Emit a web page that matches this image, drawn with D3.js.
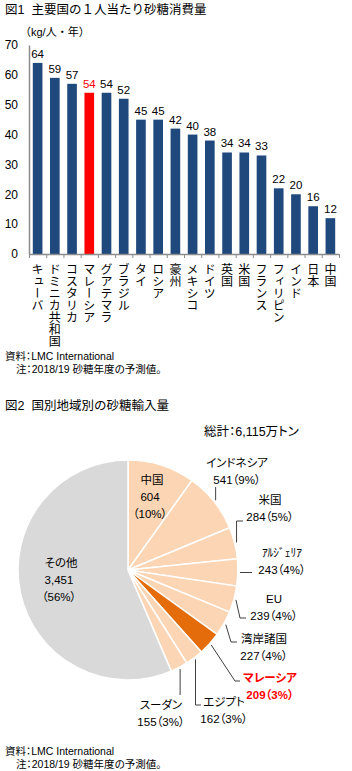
<!DOCTYPE html>
<html>
<head>
<meta charset="utf-8">
<script src="https://cdn.jsdelivr.net/npm/d3@7"></script>
<style>
  body { margin: 0; background: #fff; }
  svg { display: block; font-family: "Liberation Sans", "Noto Sans CJK JP", sans-serif; }
  .palt { font-feature-settings: "palt"; }
</style>
</head>
<body>
<svg id="chart" width="352" height="771"></svg>
<script>
// --- data: fig.1 per-capita sugar consumption (kg/person/year)
const countries = ["キューバ", "ドミニカ共和国", "コスタリカ", "マレーシア", "グアテマラ", "ブラジル",
  "タイ", "ロシア", "豪州", "メキシコ", "ドイツ", "英国", "米国", "フランス", "フィリピン",
  "インド", "日本", "中国"];
const perCapita = [64, 59, 57, 54, 54, 52, 45, 45, 42, 40, 38, 34, 34, 33, 22, 20, 16, 12];
const highlight = "マレーシア";
const yTicks = [0, 10, 20, 30, 40, 50, 60, 70];

// --- data: fig.2 sugar imports by country/region (10k tonnes)
const importNames = ["中国", "インドネシア", "米国", "ｱﾙｼﾞｪﾘｱ", "EU", "湾岸諸国", "マレーシア",
  "エジプト", "スーダン", "その他"];
const importValues = [604, 541, 284, 243, 239, 227, 209, 162, 155, 3451];
const importShares = [10, 9, 5, 4, 4, 4, 3, 3, 3, 56];
const importTotal = 6115;

const svg = d3.select("#chart");
const fmt = d3.format(",");

// ---------------- figure 1 ----------------
svg.append("text").attr("x", 5).attr("y", 14).attr("font-size", 12.5)
  .text("図1\u00a0\u00a0主要国の１人当たり砂糖消費量");
svg.append("text").attr("x", 20).attr("y", 36).attr("font-size", 11)
  .text("（kg/人・年）");

const x = d3.scaleBand().domain(countries).range([29, 339])
  .paddingInner(0.44).paddingOuter(0.22);
const y = d3.scaleLinear().domain([0, 70]).range([254, 45]);
const edges = d3.scaleLinear().domain([0, countries.length]).range([29, 339]);

const yAxis = svg.append("g").attr("transform", "translate(29,0)")
  .call(d3.axisLeft(y).tickValues(yTicks).tickSize(0).tickSizeOuter(0).tickPadding(11));
yAxis.selectAll("text").attr("font-size", 12).attr("fill", "#000")
  .attr("font-family", "Liberation Sans, sans-serif");
yAxis.select(".domain").attr("stroke", "#8c8c8c").attr("stroke-width", 1.5);

svg.selectAll("rect.bar").data(countries).join("rect")
  .attr("class", "bar")
  .attr("x", d => x(d))
  .attr("width", x.bandwidth())
  .attr("y", (d, i) => y(perCapita[i]))
  .attr("height", (d, i) => y(0) - y(perCapita[i]))
  .attr("fill", d => d === highlight ? "#ff0000" : "#1f497d");

svg.selectAll("text.val").data(countries).join("text")
  .attr("class", "val")
  .attr("x", d => x(d) + x.bandwidth() / 2)
  .attr("y", (d, i) => y(perCapita[i]) - 5)
  .attr("text-anchor", "middle")
  .attr("font-size", 11.5)
  .attr("fill", d => d === highlight ? "#ff0000" : "#000")
  .text((d, i) => perCapita[i]);

const xAxis = svg.append("g").attr("transform", "translate(0,254)")
  .call(d3.axisBottom(edges).tickValues(d3.range(countries.length + 1))
    .tickSize(4).tickSizeOuter(0).tickFormat(""));
xAxis.selectAll("line").attr("stroke", "#8c8c8c");
xAxis.select(".domain").attr("stroke", "#8c8c8c").attr("stroke-width", 1.5);

svg.selectAll("text.cat").data(countries).join("text")
  .attr("class", "cat")
  .attr("x", d => x(d) + x.bandwidth() / 2)
  .attr("y", 263)
  .attr("font-size", 12)
  .attr("font-family", "Noto Sans CJK JP, sans-serif")
  .style("writing-mode", "vertical-rl")
  .text(d => d);

svg.append("text").attr("x", 5).attr("y", 360).attr("font-size", 10.5)
  .attr("class", "palt").text("資料：LMC International");
svg.append("text").attr("x", 16).attr("y", 373).attr("font-size", 10.5)
  .attr("class", "palt").text("注：2018/19 砂糖年度の予測値。");

// ---------------- figure 2 ----------------
svg.append("text").attr("x", 5).attr("y", 410).attr("font-size", 12.5)
  .text("図2\u00a0\u00a0国別地域別の砂糖輸入量");
svg.append("text").attr("x", 204).attr("y", 436).attr("font-size", 12.5)
  .attr("class", "palt").text("総計：" + fmt(importTotal) + "万トン");

const cx = 128, cy = 570, r = 110;
const pieData = d3.pie().sort(null).value(d => d.v)(
  importNames.map((n, i) => ({ name: n, v: importValues[i], pct: importShares[i] })));
const arc = d3.arc().innerRadius(0).outerRadius(r);

const g2 = svg.append("g").attr("transform", `translate(${cx},${cy})`);
g2.selectAll("path").data(pieData).join("path")
  .attr("d", arc)
  .attr("fill", d => d.data.name === "その他" ? "#d9d9d9"
    : d.data.name === highlight ? "#e46c0a" : "#fcd5b4")
  .attr("stroke", "#fff").attr("stroke-width", 1.5);

// label layout (absolute positions) and leader bends
const labelPos = {
  "中国": { x: 152, y: 480, inside: true },
  "その他": { x: 61, y: 563, inside: true },
  "インドネシア": { x: 237, y: 463, lead: s => [[s[0], 487]] },
  "米国": { x: 270, y: 500, lead: s => [[s[0], 521], [243, 521]] },
  "ｱﾙｼﾞｪﾘｱ": { x: 282, y: 553, lead: s => [[252, s[1]]] },
  "EU": { x: 274, y: 599, lead: s => [[240, 618], [246, 618]] },
  "湾岸諸国": { x: 264, y: 639, lead: s => [[231, 642], [237, 642]] },
  "マレーシア": { x: 270, y: 678, lead: s => [[235, 681], [240, 681]] },
  "エジプト": { x: 224, y: 702, lead: s => [[s[0], 705], [201, 705]] },
  "スーダン": { x: 161, y: 705, lead: s => [[s[0], 695]] }
};

pieData.forEach(d => {
  const p = labelPos[d.data.name];
  const red = d.data.name === highlight;
  const t = svg.append("g")
    .attr("class", "palt")
    .attr("font-size", 11.5)
    .attr("fill", red ? "#ff0000" : "#000")
    .attr("font-weight", red ? "bold" : "normal")
    .attr("text-anchor", "middle");
  const lines = p.inside
    ? [d.data.name, fmt(d.data.v), "（" + d.data.pct + "%）"]
    : [d.data.name, fmt(d.data.v) + "（" + d.data.pct + "%）"];
  lines.forEach((s, k) => {
    t.append("text").attr("x", p.x + (p.inside && k > 0 ? -2 : 0))
      .attr("y", p.y + k * 17 + 4)
      .text(s);
  });
  if (p.lead) {
    const a = (d.startAngle + d.endAngle) / 2;
    const s = [cx + (r + 2) * Math.sin(a), cy - (r + 2) * Math.cos(a)];
    svg.append("path")
      .attr("d", d3.line()([s].concat(p.lead(s))))
      .attr("fill", "none").attr("stroke", "#404040").attr("stroke-width", 1);
  }
});

svg.append("text").attr("x", 5).attr("y", 755).attr("font-size", 10.5)
  .attr("class", "palt").text("資料：LMC International");
svg.append("text").attr("x", 16).attr("y", 768).attr("font-size", 10.5)
  .attr("class", "palt").text("注：2018/19 砂糖年度の予測値。");
</script>
</body>
</html>
